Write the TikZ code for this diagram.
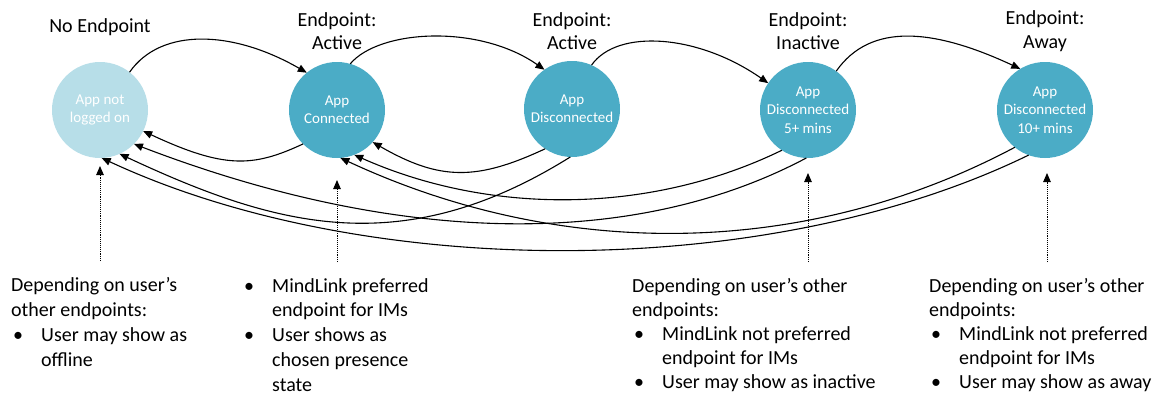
\documentclass[tikz,border=0pt]{standalone}
\usepackage{fontspec}
\setmainfont{Carlito}
\usetikzlibrary{arrows.meta}
\definecolor{stateblue}{HTML}{4BACC6}
\definecolor{statelight}{HTML}{B7DEE8}
\newcommand{\bul}{\makebox[30pt][l]{\hspace{2pt}•}}
\newcommand{\ind}{\hspace*{30pt}}
\begin{document}
\begin{tikzpicture}[x=1pt,y=1pt,
  state/.style={circle, minimum size=96pt, inner sep=0pt, outer sep=0pt, fill=stateblue, text=white, align=center, font=\fontsize{15}{18.3}\selectfont},
  title/.style={align=center, inner sep=0pt, font=\fontsize{20}{23.5}\selectfont},
  note/.style={align=left, inner sep=0pt, anchor=base west, font=\fontsize{20}{24.7}\selectfont},
  tightnote/.style={note, font=\fontsize{20}{24}\selectfont},
  arr/.style={line width=1.1pt, -{Triangle[length=9pt,width=7.5pt]}},
  dotarr/.style={line width=0.9pt, densely dotted, -{Triangle[length=9pt,width=7.5pt]}}]
\useasboundingbox (0,0) rectangle (1163,-394);

% states
\node[state, fill=statelight] (c0) at (100,-110) {App not\\logged on};
\node[state] (c1) at (337,-110) {App\\Connected};
\node[state] (c2) at (572,-109) {App\\Disconnected};
\node[state] (c3) at (808,-110) {App\\Disconnected\\5+ mins};
\node[state] (c4) at (1045,-110) {App\\Disconnected\\10+ mins};

% titles
\node[title] (t0) at (100,-27) {No Endpoint};
\node[title] (t1) at (337,-31) {Endpoint:\\Active};
\node[title] (t2) at (572,-31) {Endpoint:\\Active};
\node[title] (t3) at (808,-31) {Endpoint:\\Inactive};
\node[title] (t4) at (1045,-31) {Endpoint:\\Away};

% forward transitions
\draw[arr] (c0.52) .. controls +(55:55) and +(150:85) .. (c1.129);
\draw[arr] (c1.74) .. controls +(50:45) and +(145:80) .. (c2.125);
\draw[arr] (c2.66) .. controls +(55:45) and +(145:85) .. (c3.146);
\draw[arr] (c3.54) .. controls +(55:60) and +(155:95) .. (c4.121);

% return transitions
\draw[arr] (c1.225) .. controls +(205:55) and +(-25:90) .. (c0.-26);
\draw[arr] (c2.236) .. controls +(205:75) and +(-30:78) .. (c1.-42);
\draw[arr] (c2.268) .. controls +(212:200) and +(-25:170) .. (c0.-66);
\draw[arr] (c3.237) .. controls +(206:145) and +(-24:150) .. (c1.-69);
\draw[arr] (c3.268) .. controls +(208:190) and +(-21:290) .. (c0.-45);
\draw[arr] (c4.231) .. controls +(208:240) and +(-25:240) .. (c1.-86);
\draw[arr] (c4.250) .. controls +(206:290) and +(-25:290) .. (c0.-88);

% notes (anchor base = baseline of last line)
\node[note] (n0) at (11,-366) {Depending on user’s\\other endpoints:\\\bul User may show as\\\ind offline};
\node[note] (n1) at (242,-391) {\bul MindLink preferred\\\ind endpoint for IMs\\\bul User shows as\\\ind chosen presence\\\ind state};
\node[tightnote] (n3) at (632,-388) {Depending on user’s other\\endpoints:\\\bul MindLink not preferred\\\ind endpoint for IMs\\\bul User may show as inactive};
\node[tightnote] (n4) at (929,-388) {Depending on user’s other\\endpoints:\\\bul MindLink not preferred\\\ind endpoint for IMs\\\bul User may show as away};

% dotted pointers
\coordinate (d0s) at (100,-261); \coordinate (d0e) at (100,-166);
\coordinate (d1s) at (337,-262); \coordinate (d1e) at (337,-180);
\coordinate (d3s) at (808,-262); \coordinate (d3e) at (808,-173);
\coordinate (d4s) at (1047,-262); \coordinate (d4e) at (1047,-173);
\draw[dotarr] (d0s) -- (d0e);
\draw[dotarr] (d1s) -- (d1e);
\draw[dotarr] (d3s) -- (d3e);
\draw[dotarr] (d4s) -- (d4e);
\end{tikzpicture}
\end{document}
